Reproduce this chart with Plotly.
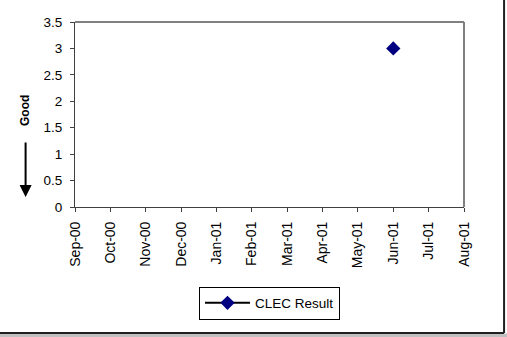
import plotly.graph_objects as go

months = ["Sep-00", "Oct-00", "Nov-00", "Dec-00", "Jan-01", "Feb-01", "Mar-01",
          "Apr-01", "May-01", "Jun-01", "Jul-01", "Aug-01"]
clec_result = [None, None, None, None, None, None, None, None, None, 3, None, None]
y_ticks = [0, 0.5, 1, 1.5, 2, 2.5, 3, 3.5]
y_tick_labels = ["0", "0.5", "1", "1.5", "2", "2.5", "3", "3.5"]

fig = go.Figure()
fig.add_trace(go.Scatter(
    x=list(range(len(months))), y=clec_result, name="CLEC Result",
    mode="lines+markers",
    line=dict(color="black", width=2),
    marker=dict(symbol="diamond", size=11, color="#000080"),
    connectgaps=False,
))

fig.update_layout(
    width=507, height=337,
    margin=dict(l=75, r=43, t=22, b=130),
    paper_bgcolor="white", plot_bgcolor="white",
    font=dict(family="Arial, Liberation Sans, sans-serif", size=13, color="black"),
    showlegend=True,
    legend=dict(
        x=0.5, xanchor="center", y=-0.43, yanchor="top",
        orientation="h", bordercolor="black", borderwidth=1,
        font=dict(size=13.5), itemwidth=45, tracegroupgap=0,
    ),
    xaxis=dict(
        range=[0, 11], tickmode="array", tickvals=list(range(len(months))),
        ticktext=months, tickangle=-90, ticks="outside", ticklen=4,
        tickcolor="#404040", showgrid=False, zeroline=False,
        showline=True, linecolor="#404040", linewidth=1,
        tickfont=dict(size=14), ticklabelstandoff=4,
    ),
    yaxis=dict(
        range=[0, 3.5], tickmode="array", tickvals=y_ticks, ticktext=y_tick_labels,
        ticks="outside", ticklen=4, tickcolor="#404040", showgrid=False,
        zeroline=False, showline=True, linecolor="#404040", linewidth=1,
        tickfont=dict(size=13.5), ticklabelstandoff=5,
    ),
)

# plot-area border (top and right, gray)
fig.add_shape(type="line", xref="paper", yref="paper", x0=0, x1=1, y0=1, y1=1,
              line=dict(color="#808080", width=2))
fig.add_shape(type="line", xref="paper", yref="paper", x0=1, x1=1, y0=0, y1=1,
              line=dict(color="#808080", width=2))

# "Good" label and arrow
fig.add_annotation(text="<b>Good</b>", xref="paper", yref="paper",
                   x=-0.128, y=0.52, textangle=-90, showarrow=False,
                   xanchor="center", yanchor="middle",
                   font=dict(size=12, color="black"))
fig.add_annotation(x=-0.127, y=0.054, ax=0, ay=-56,
                   xref="paper", yref="paper",
                   showarrow=True, arrowhead=2, arrowsize=1.2, arrowwidth=2,
                   arrowcolor="black", text="")

# outer frame: right and bottom edges with gray shadow
fig.add_shape(type="rect", xref="paper", yref="paper",
              x0=-0.3, x1=1.2, y0=-0.72, y1=-0.684,
              line=dict(width=0), fillcolor="#c0c0c0")
fig.add_shape(type="line", xref="paper", yref="paper",
              x0=-0.3, x1=1.103, y0=-0.681, y1=-0.681,
              line=dict(color="#202020", width=2))
fig.add_shape(type="line", xref="paper", yref="paper",
              x0=1.103, x1=1.103, y0=-0.681, y1=1.2,
              line=dict(color="#202020", width=2))

fig.write_html("out.html", config={"displayModeBar": False},
               post_script="document.body.style.margin='0';")
